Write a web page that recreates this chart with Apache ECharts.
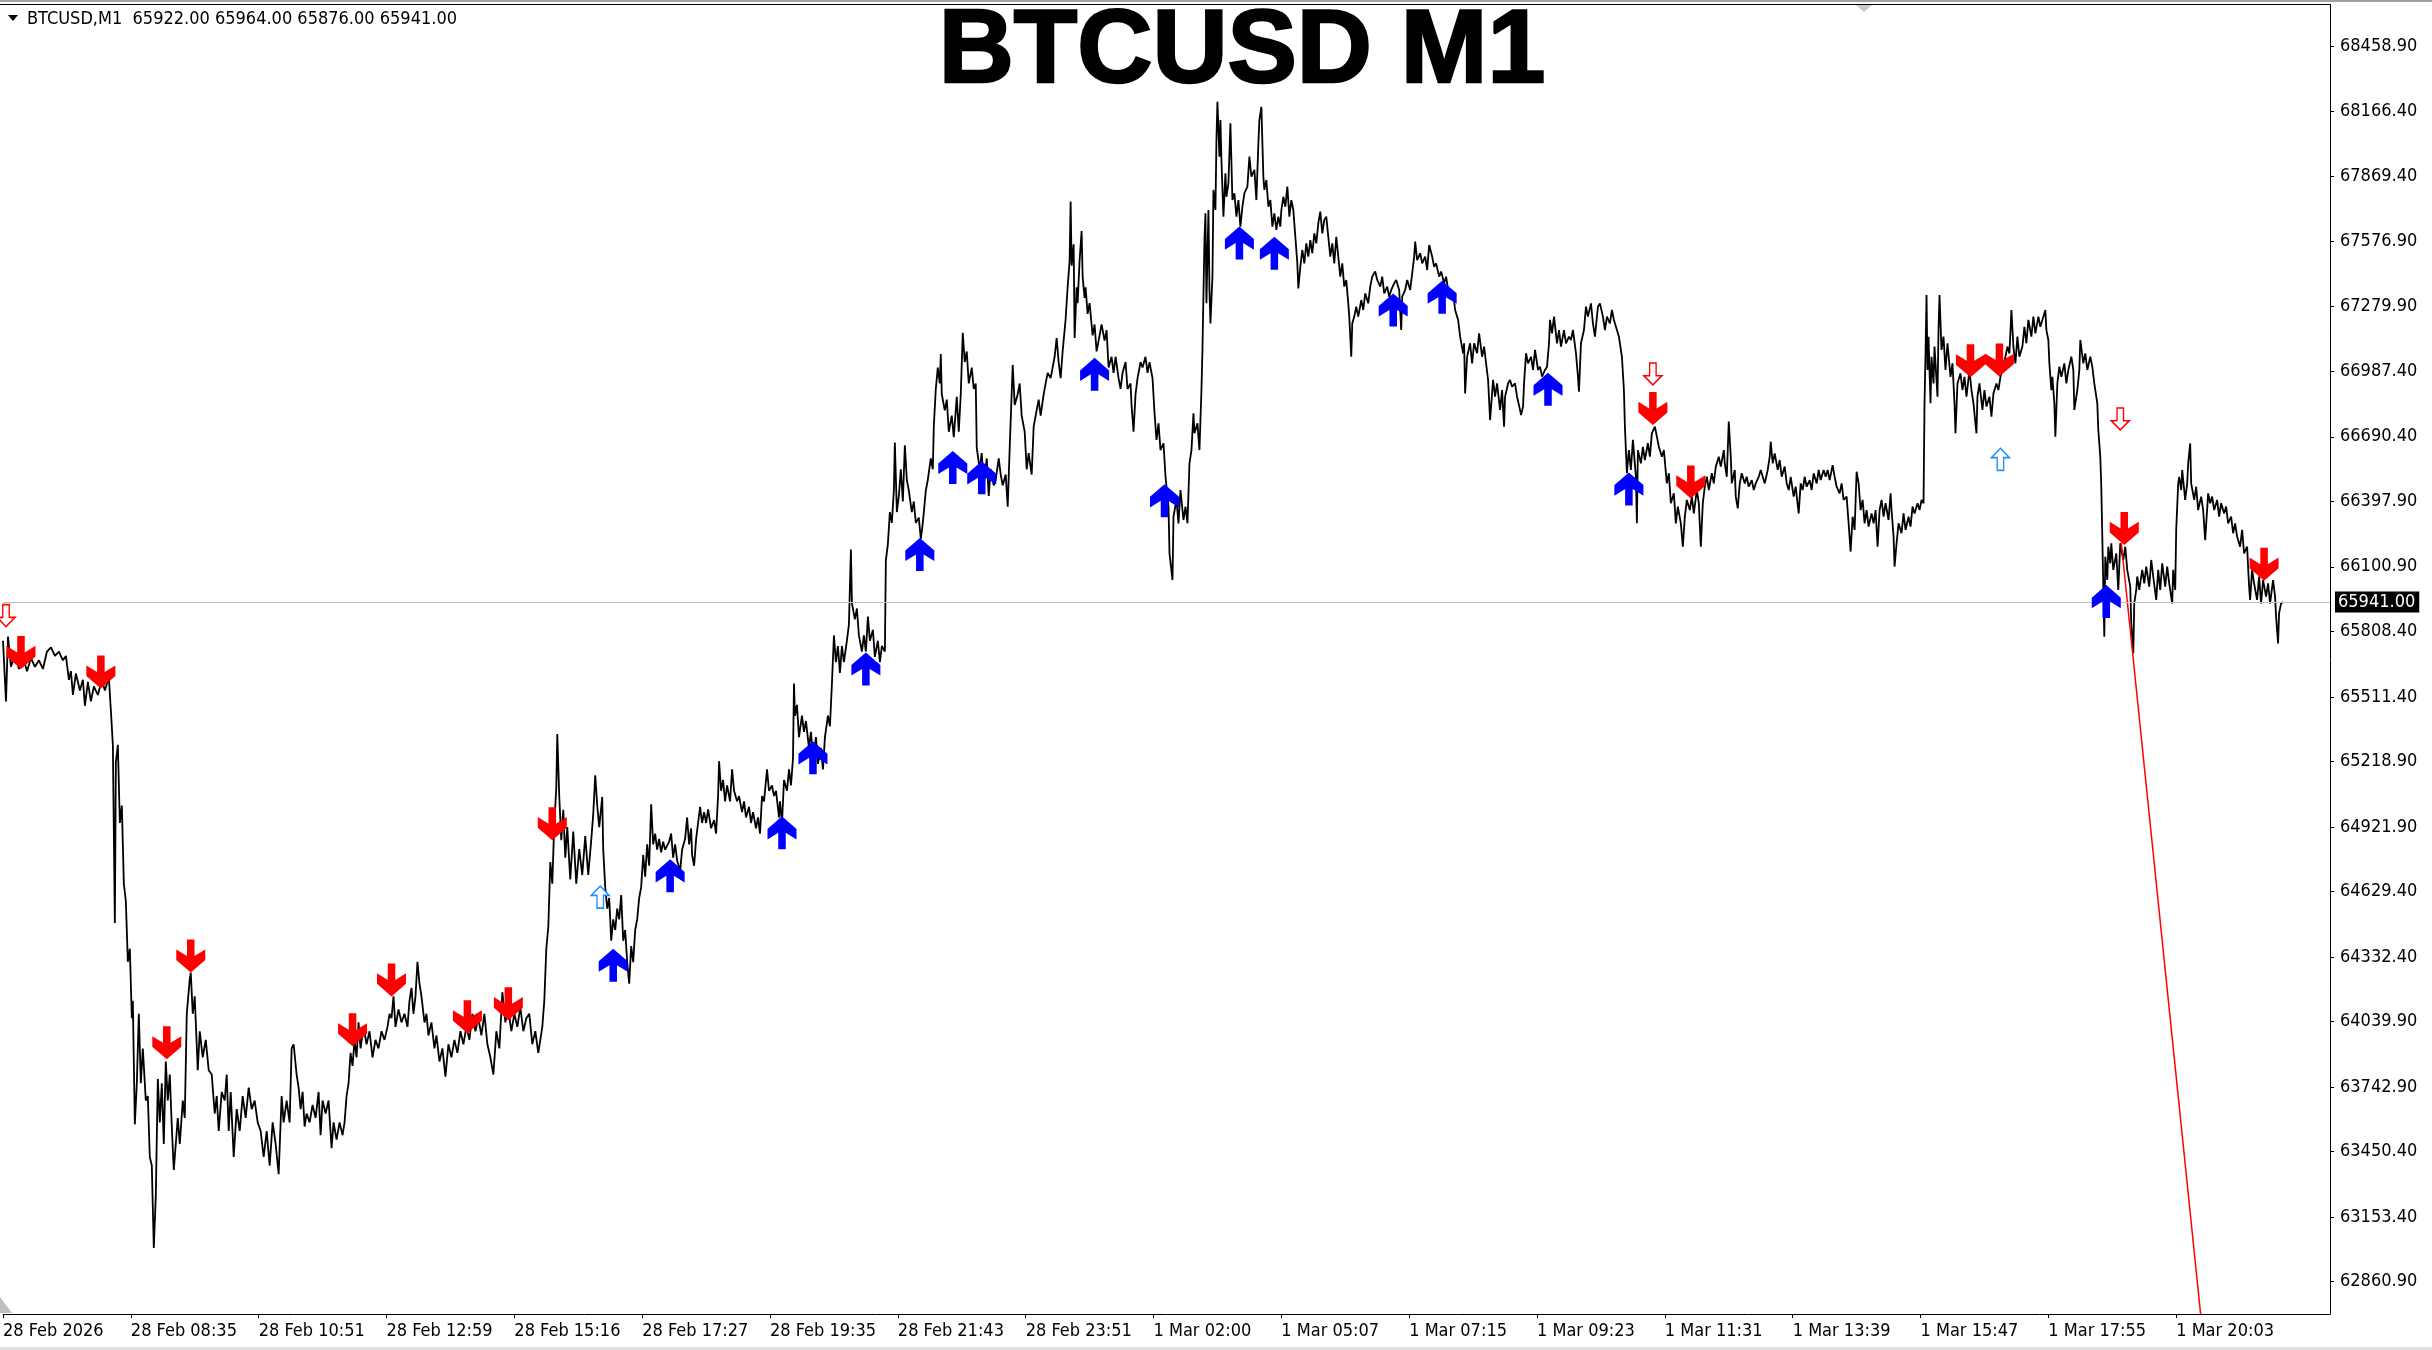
<!DOCTYPE html>
<html>
<head>
<meta charset="utf-8">
<title>BTCUSD M1</title>
<script src="https://cdn.jsdelivr.net/npm/echarts@6/dist/echarts.min.js"></script>
<style>
  html, body { margin: 0; padding: 0; background: #fff; overflow: hidden; }
  #chart { width: 2432px; height: 1350px; }
</style>
</head>
<body>
<div id="chart"></div>
<script>
// right price scale (MT4 style irregular steps)
const priceTicks = [68458.90, 68166.40, 67869.40, 67576.90, 67279.90, 66987.40, 66690.40,
  66397.90, 66100.90, 65808.40, 65511.40, 65218.90, 64921.90, 64629.40, 64332.40,
  64039.90, 63742.90, 63450.40, 63153.40, 62860.90];

// time scale: bar number -> label (1 px per M1 bar)
const timeTickBars = [0, 128, 256, 384, 512, 640, 768, 896, 1024, 1152, 1280, 1408, 1536, 1664, 1792, 1920, 2048, 2176];
const timeTickLabels = ['28 Feb 2026', '28 Feb 08:35', '28 Feb 10:51', '28 Feb 12:59', '28 Feb 15:16',
  '28 Feb 17:27', '28 Feb 19:35', '28 Feb 21:43', '28 Feb 23:51', '1 Mar 02:00', '1 Mar 05:07',
  '1 Mar 07:15', '1 Mar 09:23', '1 Mar 11:31', '1 Mar 13:39', '1 Mar 15:47', '1 Mar 17:55', '1 Mar 20:03'];

const ohlc = [65922.00, 65964.00, 65876.00, 65941.00];
const lastPrice = 65941.00;

// price trace, highs/lows (bar number, price)
const traceBar = [
  0,3,5,8,12,16,20,24,28,32,
  36,40,44,48,52,56,60,63,66,68,
  70,73,77,80,82,85,88,91,95,99,
  102,106,108,110,112,113,115,117,119,121,
  123,125,127,129,130,132,134,136,138,140,
  143,145,147,149,151,153,155,157,159,161,
  163,165,167,169,171,173,175,177,180,182,
  184,187,188,190,192,195,197,200,203,206,
  209,212,214,216,219,222,224,226,228,231,
  234,237,240,243,246,249,252,255,258,261,
  264,267,270,273,276,279,281,284,287,289,
  291,294,296,298,300,302,304,307,310,313,
  316,318,320,323,326,329,331,334,337,340,
  342,344,346,348,350,352,354,356,358,361,
  364,367,370,373,376,379,382,385,387,389,
  391,393,396,399,402,405,407,409,411,413,
  415,417,419,422,424,426,429,432,434,437,
  440,443,446,449,452,455,458,461,464,467,
  470,473,476,479,482,485,488,491,494,497,
  500,503,506,509,512,515,518,521,524,527,
  530,533,536,538,540,542,544,546,548,550,
  552,554,555,557,559,561,563,565,568,571,
  574,577,580,583,586,589,591,593,595,597,
  600,
  601,603,605,607,609,611,613,615,617,619,
  621,623,625,627,629,631,633,635,637,639,
  641,643,645,647,649,651,653,655,657,659,
  661,663,667,669,671,673,675,678,680,683,
  685,687,689,690,692,694,696,698,700,702,
  704,706,709,712,714,716,717,719,721,723,
  725,728,730,732,735,737,740,742,744,747,
  749,751,754,756,758,760,762,765,767,770,
  772,774,777,778,780,782,785,787,789,791,
  792,793,795,797,800,802,804,807,809,811,
  814,816,819,821,823,826,828,830,832,834,
  836,838,840,842,845,847,849,850,853,855,
  857,860,862,864,866,868,871,873,876,878,
  880,883,884,886,888,890,892,893,895,897,
  899,901,903,905,907,910,912,914,917,919,
  921,924,926,929,931,932,934,936,938,939,
  940,943,945,947,950,952,955,957,959,961,
  963,965,967,970,972,974,975,978,980,982,
  985,987,989,992,994,997,999,1001,1004,1006,
  1008,1011,1013,1016,1018,1020,1023,1025,1027,1030,
  1032,1034,1037,1039,1042,1044,1046,1049,1051,1053,
  1055,1057,1059,1061,1064,1066,1068,1069,1070,1072,
  1073,1075,1076,1078,1080,1081,1083,1084,1086,1088,
  1091,1093,1095,1098,1100,1103,1105,1107,1110,1112,
  1114,1117,1119,1121,1124,1126,1129,1130,1132,1134,
  1136,1139,1141,1144,1146,1148,1151,1153,
  1155,1157,1159,1162,1164,1167,1168,1171,1172,1175,
  1177,1179,1182,1184,1186,1188,1190,1192,1193,1196,
  1198,1200,1201,1203,1204,1205,1207,1208,1209,1211,
  1212,1214,1215,1216,1218,1219,1220,1222,1224,1225,
  1227,1229,1231,1233,1235,1237,1239,1241,1243,1246,
  1248,1250,1253,1255,1257,1258,1260,1262,1263,1265,
  1267,1269,1271,1273,1275,1277,1279,1280,1282,1284,
  1286,1288,1290,1292,1294,1296,1297,1299,1301,1303,
  1305,1307,1309,1311,1313,1315,1317,1319,1321,1323,
  1325,1327,1329,1331,1333,1335,1337,1339,1341,1343,
  1345,1347,1348,1350,1351,1353,1355,1357,1360,1362,
  1364,1367,1369,1371,1374,1376,1379,1381,1383,1386,
  1388,1390,1393,1395,1398,1400,1401,1404,1406,1409,
  1411,1413,1414,1416,1419,1421,1424,1426,1428,1431,
  1433,1435,1438,1440,1443,1445,1447,1450,1452,1454,
  1457,1459,1462,1463,1464,1466,1469,1471,1473,1476,
  1478,1481,1483,1485,1487,1489,1492,1494,1496,1499,
  1501,1503,1504,1507,1509,1511,1514,1516,1519,1520,
  1522,1523,1525,1527,1530,1532,1534,1537,1539,1541,
  1544,1546,1548,1549,1551,1553,1556,1558,1560,1563,
  1565,1568,1570,1572,1575,1577,1578,1580,1583,1585,
  1587,1590,1592,1594,1597,1599,1602,1604,1606,1609,
  1611,1613,1616,1618,1621,1623,1624,1626,1628,1630,
  1632,1635,1636,1637,1640,1642,1644,1647,1649,1651,
  1654,1656,1658,1661,1663,1666,1668,1670,1673,1675,
  1677,1680,1682,1684,1686,1689,1691,1693,1696,1698,
  1700,1702,1704,1706,1708,1711,1713,1715,1718,1720,
  1723,
  1724,1726,1728,1730,1731,1734,1735,1737,1739,1741,
  1744,1746,1748,1751,1753,1755,1758,1760,1762,1764,
  1767,1769,1770,1772,1774,1777,1779,1781,1784,1786,
  1788,1790,1793,1795,1798,1800,1802,1804,1806,1809,
  1811,1813,1816,1818,1820,1823,1825,1827,1829,1832,
  1834,1836,1839,1841,1843,1846,1848,1850,1852,1854,
  1856,1858,1860,1862,1864,1866,1868,1871,1873,1875,
  1877,1879,1881,1883,1885,1888,1890,1891,1893,1894,
  1896,1898,1901,1903,1905,1908,1910,1912,1914,1917,
  1919,1921,1923,1924,1925,1926,1927,1928,1930,1931,
  1933,1934,1937,1938,1939,1941,1943,1945,1947,1950,
  1952,1954,1955,1957,1960,1962,1964,1966,1969,1971,
  1973,1976,1977,1979,1982,1984,1986,1989,1991,1993,
  1996,1998,2000,2002,2005,2007,2009,2011,2013,2015,
  2017,2019,2022,2024,2026,2028,2031,2033,2035,2038,
  2040,2042,2045,2046,2048,2049,2051,2052,2054,2055,
  2057,2059,2061,2064,2066,2068,2071,2073,2074,2077,
  2079,2080,2083,2085,2087,2090,2092,2094,2097,2098,
  2100,2101,2102,2103,2104,2105,2107,2108,2110,2111,
  2113,2116,2118,2120,2123,2125,2127,2130,2131,2133,
  2134,2136,2137,2139,2142,2144,2146,2149,2151,2153,
  2156,2158,2160,2162,2165,2167,2169,2172,2173,2175,
  2176,2178,2179,2181,2182,2185,2187,2188,2190,2191,
  2194,2196,2198,2201,2203,2205,2208,2210,2212,2214,
  2217,2219,2221,2224,2226,2228,2231,2233,2235,2237,
  2240,2242,2244,2247,2249,2250,2252,2254,2257,2259,
  2261,2263,2266,2268,2270,2273,2275,2276,2278,2279,
  2281,2283
];
const tracePrice = [
  65766,65491,65785,65648,65707,65638,65697,65628,65687,65648,
  65677,65638,65717,65736,65697,65717,65677,65697,65589,65628,
  65520,65618,65540,65589,65471,65579,65491,65559,65520,65589,
  65540,65599,65451,65294,64487,65215,65294,64940,65019,64665,
  64586,64311,64370,64055,64134,63574,63760,64075,63760,63918,
  63682,63702,63426,63387,63014,63250,63780,63583,63760,63485,
  63859,63682,63800,63564,63367,63485,63603,63485,63682,63603,
  64075,64232,64262,64075,64154,63819,63996,63878,63957,63819,
  63800,63623,63702,63544,63721,63682,63800,63544,63721,63426,
  63643,63544,63702,63603,63741,63643,63682,63583,63544,63426,
  63544,63387,63583,63485,63348,63702,63583,63682,63583,63918,
  63937,63800,63741,63643,63721,63564,63623,63583,63662,63603,
  63721,63525,63682,63623,63682,63466,63583,63505,63583,63525,
  63583,63702,63760,63898,63839,63957,63878,64036,63918,64016,
  63937,63996,63878,63957,63918,63996,63957,64016,64075,64055,
  64154,64016,64095,64036,64075,64016,64134,64193,64075,64154,
  64311,64213,64154,64036,64075,63977,64036,63918,63977,63859,
  63918,63790,63937,63878,63957,63898,63996,63937,64016,63957,
  64075,63996,64055,63977,64075,63937,63878,63800,63996,63918,
  64173,64036,64095,63996,64075,64016,64105,63996,64055,64075,
  63937,63996,63898,63957,64016,64134,64370,64468,64763,64665,
  64940,65097,65343,65058,64862,65000,64783,64921,64684,64901,
  64665,64822,64704,64881,64704,64862,64980,65156,65019,64921,
  65058,
  64819,64649,64552,64600,64406,64503,64455,64552,64503,64613,
  64406,64455,64309,64212,64382,64309,64455,64503,64600,64649,
  64795,64697,64843,64746,65025,64843,64892,64819,64868,64807,
  64855,64819,64855,64892,64783,64843,64770,64722,64819,64868,
  64965,64843,64916,64795,64746,64868,64940,65013,64940,64989,
  64940,65001,64916,64953,64892,65062,65220,65086,65135,65038,
  65110,65038,65183,65086,65038,65062,64989,65038,64965,65013,
  64940,64989,64916,64965,64892,65062,65038,65183,65086,65110,
  65062,65086,64965,65038,64940,65135,65086,65183,65110,65232,
  65572,65426,65475,65329,65426,65353,65402,65280,65353,65232,
  65329,65208,65280,65183,65329,65426,65378,65572,65790,65669,
  65742,65620,65742,65669,65766,65839,66179,65936,65863,65912,
  65790,65717,65790,65717,65875,65766,65815,65693,65766,65669,
  65742,65717,66130,66203,66349,66300,66446,66664,66349,66422,
  66543,66397,66652,66495,66446,66349,66397,66300,66324,66227,
  66300,66446,66495,66592,66543,66737,66907,67004,66932,67065,
  66883,66810,66859,66713,66786,66689,66871,66713,66883,67162,
  67029,67077,66932,67004,66907,66932,66640,66543,66616,66470,
  66592,66422,66543,66470,66495,66592,66519,66470,66519,66373,
  66640,67016,66834,66883,66932,66786,66713,66543,66616,66519,
  66737,66786,66859,66786,66883,66932,66980,66956,67004,67053,
  67138,67029,66956,67077,67223,67368,67490,67757,67466,67563,
  67138,67368,67296,67490,67623,67417,67320,67368,67247,67296,
  67150,67199,67077,67150,67199,67126,67174,67004,67053,66980,
  67053,66956,66907,66980,67029,66907,66932,66834,66713,66883,
  66956,67029,67004,67053,66980,67029,66956,66798,
  66676,66751,66630,66661,66510,66374,66162,66041,66328,66404,
  66298,66449,66313,66374,66298,66570,66630,66797,66706,66751,
  66630,66902,67084,67582,67703,67295,67718,67356,67204,67416,
  67809,67718,68035,68209,67960,68126,67945,67688,67884,67778,
  67839,68111,67763,67794,67688,67763,67643,67733,67794,67824,
  67960,67869,67900,67763,68020,68126,68186,67869,67809,67854,
  67733,67763,67643,67703,67628,67688,67643,67718,67778,67733,
  67824,67688,67763,67718,67597,67476,67363,67461,67537,67476,
  67567,67507,67582,67522,67612,67567,67658,67711,67612,67673,
  67688,67597,67507,67567,67476,67597,67507,67416,67476,67371,
  67401,67295,67235,67053,67204,67235,67280,67235,67310,67265,
  67340,67295,67371,67416,67439,67401,67371,67416,67340,67371,
  67325,67356,67386,67401,67356,67174,67325,67356,67401,67356,
  67431,67507,67575,67491,67522,67476,67507,67446,67559,67507,
  67461,67476,67416,67439,67386,67416,67356,67325,67340,67265,
  67220,67144,67069,67114,66887,67053,67114,67023,67114,67069,
  67159,67053,67099,67023,66948,66766,66948,66872,66932,66812,
  66902,66736,66872,66932,66948,66917,66932,66872,66812,66789,
  66827,66932,67069,67023,67053,66993,67084,66993,67008,66963,
  66993,67008,67114,67220,67159,67235,67114,67174,67099,67174,
  67114,67144,67129,67174,67069,66963,66895,67114,67174,67280,
  67235,67295,67204,67144,67280,67295,67235,67174,67235,67204,
  67265,67220,67174,67144,67053,66902,66736,66525,66630,66540,
  66676,66510,66298,66630,66570,66645,66585,66661,66600,66706,
  66736,66691,66645,66600,66630,66479,66525,66389,66434,66298,
  66374,66298,66192,66328,66404,66358,66419,66343,66449,66389,
  66192,66389,66464,66510,66449,66525,66479,66555,66600,66555,
  66630,
  66570,66509,66759,66600,66479,66540,66419,66366,66479,66525,
  66479,66509,66464,66494,66449,66479,66509,66540,66509,66479,
  66540,66600,66668,66570,66615,66540,66585,66509,66555,66479,
  66449,66509,66419,66464,66343,66479,66449,66509,66464,66494,
  66449,66525,66479,66540,66494,66540,66509,66540,66494,66562,
  66509,66464,66434,66479,66404,66419,66298,66170,66328,66268,
  66532,66479,66358,66404,66298,66358,66283,66343,66298,66358,
  66192,66358,66404,66328,66389,66313,66434,66358,66238,66102,
  66207,66298,66253,66343,66268,66328,66283,66374,66343,66389,
  66358,66404,66389,66842,67068,67333,66993,67144,66842,67053,
  66932,67099,66872,67174,67333,67084,67144,66993,67114,66962,
  67023,66842,66706,66932,66978,66902,66962,66872,66993,66902,
  66842,66706,66872,66932,66812,66902,66827,66872,66781,66887,
  66932,66902,66962,66993,67053,67099,67068,67265,67099,67023,
  67144,67053,67099,67189,67114,67220,67144,67235,67159,67235,
  67189,67220,67265,67174,67129,67023,66902,66962,66842,66691,
  66932,67008,66962,67023,66932,66993,67053,66993,66812,66902,
  66993,67129,67023,67068,66993,67053,67008,66932,66842,66721,
  66600,66464,66238,66011,65784,66147,66041,66192,66117,66207,
  66087,66162,65996,66207,66132,66192,66087,66011,65845,65709,
  65935,65996,66057,65996,66087,66026,66102,66011,66132,66057,
  65951,66087,65996,66117,66011,66102,66026,65935,66087,65996,
  66268,66479,66509,66449,66540,66404,66479,66570,66660,66479,
  66404,66464,66358,66419,66358,66222,66434,66389,66419,66358,
  66404,66328,66389,66343,66374,66298,66328,66253,66298,66238,
  66192,66268,66162,66192,66011,65951,66087,66026,65951,66057,
  65935,66041,65966,66026,65935,66041,65966,65875,65754,65890,
  65935,65941
];

// indicator arrows: [bar, price at arrow tip]
const sellArrows = [[18,65638],[98,65549],[164,63869],[188,64262],[350,63928],[389,64154],[465,63987],
  [506,64046],[550,64862],[1652,66744],[1690,66411],[1970,66960],[1999,66963],[2124,66200],[2264,66038]];
const buyArrows = [[611,64370],[668,64775],[780,64970],[811,65310],[864,65713],[918,66232],[951,66626],
  [980,66579],[1093,67048],[1163,66475],[1238,67643],[1273,67597],[1392,67340],[1441,67398],[1547,66981],
  [1628,66528],[2106,66018]];
const sellHints = [[3,65830],[1652,66925],[2120,66721]];
const buyHints = [[598,64654],[2000,66638]];

// red trend line object
const trendLine = [[2121,66210],[2210,62294]];

const yMin = 62714.5, yMax = 68647.2;
const axisFont = "'DejaVu Sans Condensed', 'DejaVu Sans', sans-serif";

const downArrow = 'path://M37,0L63,0L63,50L100,30L100,62L50,100L0,62L0,30L37,50Z';
const upArrow = 'path://M37,100L63,100L63,50L100,70L100,38L50,0L0,38L0,70L37,50Z';
const downHollow = 'path://M32,0L68,0L68,58L100,58L50,100L0,58L32,58Z';
const upHollow = 'path://M32,100L68,100L68,42L100,42L50,0L0,42L32,42Z';

const chart = echarts.init(document.getElementById('chart'));

chart.setOption({
  animation: false,
  backgroundColor: '#ffffff',
  grid: { left: 0, right: 102, top: 5, bottom: 36 },
  xAxis: {
    type: 'value',
    min: 0,
    max: 2330,
    axisLine: { show: true, onZero: false, lineStyle: { color: '#000', width: 1 } },
    axisTick: { show: true, customValues: timeTickBars, length: 4, lineStyle: { color: '#000' } },
    axisLabel: {
      customValues: timeTickBars,
      formatter: (v) => timeTickLabels[timeTickBars.indexOf(v)] || '',
      align: 'left',
      margin: 8,
      color: '#000',
      fontSize: 18,
      fontFamily: axisFont
    },
    splitLine: { show: false }
  },
  yAxis: {
    type: 'value',
    position: 'right',
    min: yMin,
    max: yMax,
    axisLine: { show: true, onZero: false, lineStyle: { color: '#000', width: 1 } },
    axisTick: { show: true, customValues: priceTicks, length: 4, lineStyle: { color: '#000' } },
    axisLabel: {
      customValues: priceTicks,
      formatter: (v) => v.toFixed(2),
      margin: 10,
      color: '#000',
      fontSize: 18,
      fontFamily: axisFont
    },
    splitLine: { show: false }
  },
  series: [
    {
      name: 'BTCUSD,M1',
      type: 'line',
      data: traceBar.map((b, i) => [b, tracePrice[i]]),
      symbol: 'none',
      lineStyle: { color: '#000', width: 1.8 },
      z: 3,
      markLine: {
        silent: true,
        symbol: ['none', 'none'],
        lineStyle: { color: '#c0c0c0', width: 1, type: 'solid' },
        label: {
          position: 'end',
          distance: 5,
          formatter: lastPrice.toFixed(2),
          backgroundColor: '#000',
          color: '#fff',
          fontSize: 18,
          fontFamily: axisFont,
          padding: [2, 4, 1, 3]
        },
        data: [{ yAxis: lastPrice }]
      }
    },
    {
      name: 'trend',
      type: 'line',
      data: trendLine,
      symbol: 'none',
      lineStyle: { color: '#ff0000', width: 1.5 },
      z: 4
    },
    {
      name: 'sell',
      type: 'scatter',
      data: sellArrows,
      symbol: downArrow,
      symbolSize: [29, 33],
      symbolOffset: [0, -16.5],
      itemStyle: { color: '#ff0000', opacity: 1 },
      z: 5
    },
    {
      name: 'buy',
      type: 'scatter',
      data: buyArrows,
      symbol: upArrow,
      symbolSize: [29, 33],
      symbolOffset: [0, 16.5],
      itemStyle: { color: '#0000ff', opacity: 1 },
      z: 5
    },
    {
      name: 'sell hint',
      type: 'scatter',
      data: sellHints,
      symbol: downHollow,
      symbolSize: [18, 22],
      symbolOffset: [0, -11],
      itemStyle: { color: '#ffffff', borderColor: '#ff0000', borderWidth: 1.5, opacity: 1 },
      z: 5
    },
    {
      name: 'buy hint',
      type: 'scatter',
      data: buyHints,
      symbol: upHollow,
      symbolSize: [18, 22],
      symbolOffset: [0, 11],
      itemStyle: { color: '#ffffff', borderColor: '#1e90ff', borderWidth: 1.5, opacity: 1 },
      z: 5
    }
  ],
  graphic: [
    { type: 'rect', shape: { x: 0, y: 0, width: 2432, height: 2 }, style: { fill: '#a0a0a0' }, silent: true },
    { type: 'rect', shape: { x: 0, y: 4, width: 2331, height: 1 }, style: { fill: '#000' }, silent: true },
    { type: 'rect', shape: { x: 0, y: 1347, width: 2432, height: 3 }, style: { fill: '#e0e0e0' }, silent: true },
    { type: 'polygon', shape: { points: [[1856, 5], [1872, 5], [1864, 12]] }, style: { fill: '#c8c8c8' }, silent: true },
    { type: 'polygon', shape: { points: [[0, 1297], [12, 1313], [0, 1313]] }, style: { fill: '#c0c0c0' }, silent: true },
    { type: 'polygon', shape: { points: [[8, 15], [18, 15], [13, 21]] }, style: { fill: '#000' }, silent: true },
    {
      type: 'text',
      silent: true,
      style: {
        text: 'BTCUSD,M1  ' + ohlc.map((v) => v.toFixed(2)).join(' '),
        x: 27, y: 19,
        align: 'left', verticalAlign: 'middle',
        textAlign: 'left', textVerticalAlign: 'middle',
        font: "18px " + axisFont,
        fill: '#000'
      }
    },
    {
      type: 'text',
      silent: true,
      style: {
        text: 'BTCUSD M1',
        x: 1242, y: 53,
        align: 'center', verticalAlign: 'middle',
        textAlign: 'center', textVerticalAlign: 'middle',
        font: "bold 104px 'Liberation Sans', Arial, sans-serif",
        fill: '#000',
        stroke: '#000',
        lineWidth: 2.5
      }
    }
  ]
});
</script>
</body>
</html>
